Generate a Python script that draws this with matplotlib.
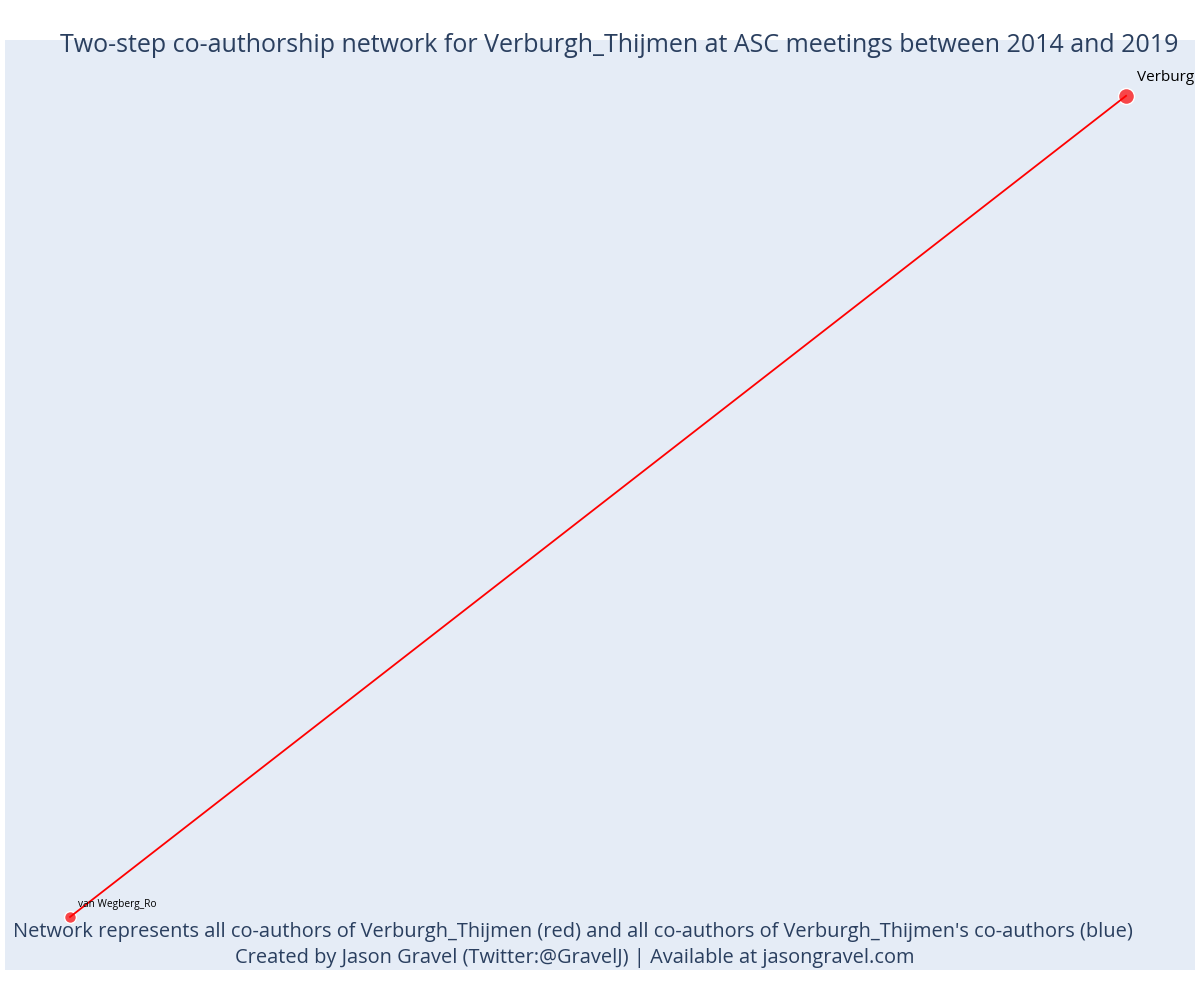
import matplotlib
matplotlib.use("Agg")
import matplotlib.pyplot as plt

# Data
node_names = ["Verburgh_Thijmen", "van Wegberg_Ro"]
node_x = [1.0, 0.0]
node_y = [1.0, 0.0]
node_sizes = [14, 10]  # marker diameter in px
label_sizes = [11.0, 7.3]
edges = [(0, 1)]
title = "Two-step co-authorship network for Verburgh_Thijmen at ASC meetings between 2014 and 2019"
note1 = "Network represents all co-authors of Verburgh_Thijmen (red) and all co-authors of Verburgh_Thijmen's co-authors (blue)"
note2 = "Created by Jason Gravel (Twitter:@GravelJ) | Available at jasongravel.com"

plt.rcParams['font.family'] = ['Open Sans', 'DejaVu Sans']
TXT = '#2a3f5f'
BG = '#E5ECF6'

fig = plt.figure(figsize=(12, 10), dpi=100)
ax = fig.add_axes([5/1200, 30/1000, 1190/1200, 930/1000])
ax.set_facecolor(BG)
for s in ax.spines.values():
    s.set_visible(False)
ax.set_xticks([]); ax.set_yticks([])
ax.set_xlim(-0.0616, 1.0653)
ax.set_ylim(-0.0646, 1.068)

for a, b in edges:
    ax.plot([node_x[a], node_x[b]], [node_y[a], node_y[b]], color='red', lw=1.3, zorder=3)

for i, name in enumerate(node_names):
    ax.plot(node_x[i], node_y[i], 'o', ms=node_sizes[i] * 0.75 + 1,
            markerfacecolor=(1, 0, 0, 0.7), markeredgecolor='white', mew=1.0, zorder=2)

offsets = [(11, 18), (8, 12)]
for i, name in enumerate(node_names):
    ax.annotate(name, (node_x[i], node_y[i]), xytext=offsets[i], textcoords='offset pixels',
                fontsize=label_sizes[i], color='black', ha='left', va='center',
                annotation_clip=False, clip_on=True)

fig.text(60/1200, 1 - 46/1000, title, fontsize=18.0, color=TXT, ha='left', va='center')
fig.text(573/1200, 1 - 932/1000, note1, fontsize=14.4, color=TXT, ha='center', va='center')
fig.text(575/1200, 1 - 958/1000, note2, fontsize=14.4, color=TXT, ha='center', va='center')

fig.savefig("out.png", dpi=100)
